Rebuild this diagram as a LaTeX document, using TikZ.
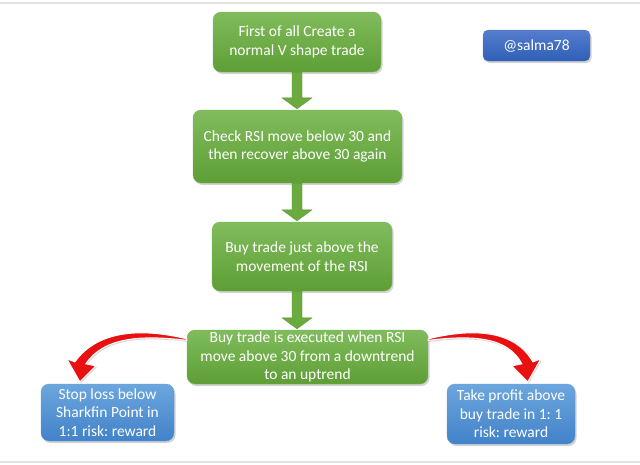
\documentclass[tikz,border=0pt]{standalone}
\usepackage{fontspec}
\setmainfont{Carlito}
\frenchspacing
\usetikzlibrary{shadows,calc}
\definecolor{gtop}{HTML}{80BC5C}
\definecolor{gbot}{HTML}{5E9E35}
\definecolor{btop}{HTML}{6CA6DD}
\definecolor{bbot}{HTML}{4282C9}
\definecolor{stop}{HTML}{557DCE}
\definecolor{sbot}{HTML}{2F5FB7}
\definecolor{arrgreen}{HTML}{6AAA3F}
\definecolor{arrred}{HTML}{E81010}
\tikzset{
  box/.style={rounded corners=8pt, text=white, align=center, inner sep=0pt,
    font=\fontsize{15.5}{18.5}\selectfont,
    drop shadow={shadow xshift=1.5pt, shadow yshift=-2pt, opacity=0.35, fill=gray}},
  greenbox/.style={box, top color=gtop, bottom color=gbot, draw=gbot!80!white, line width=0.3pt},
  bluebox/.style={box, top color=btop, bottom color=bbot, draw=bbot!80!white, line width=0.3pt},
  tagbox/.style={box, rounded corners=5pt, top color=stop, bottom color=sbot, draw=sbot!80!white, line width=0.3pt},
  blockarrow/.style={fill=arrgreen, draw=arrgreen!85!black, line width=0.3pt},
  curvearrow/.style={fill=arrred, draw=white, line width=1pt,
    drop shadow={shadow xshift=1pt, shadow yshift=-1.5pt, opacity=0.3, fill=gray}},
  frameline/.style={draw=gray!22, line width=2pt}
}
\begin{document}
\begin{tikzpicture}[x=1pt,y=-1pt]
\useasboundingbox (0,0) rectangle (640,464);
\draw[frameline] (0,2.5) -- (640,2.5);
\draw[frameline] (0,462) -- (640,462);
\coordinate (axis) at (297,0);

\node[greenbox, minimum width=168pt, minimum height=60pt] (a) at (297,42) {First of all Create a\\normal V shape trade};
\node[greenbox, minimum width=209pt, minimum height=73pt] (b) at (297.5,146.5) {Check RSI move below 30 and\\then recover above 30 again};
\node[greenbox, minimum width=180pt, minimum height=69pt] (c) at (302,256.5) {Buy trade just above the\\movement of the RSI};
\node[greenbox, minimum width=241pt, minimum height=54pt] (d) at (307.5,357) {Buy trade is executed when RSI\\move above 30 from a downtrend\\to an uptrend};
\node[bluebox, minimum width=133pt, minimum height=57pt] (e) at (107.5,412.5) {Stop loss below\\Sharkfin Point in\\1:1 risk: reward};
\node[bluebox, minimum width=128pt, minimum height=60pt] (f) at (511,414) {Take profit above\\buy trade in 1: 1\\risk: reward};
\node[tagbox, minimum width=107pt, minimum height=31pt] (g) at (536.5,45.5) {@salma78};

% green block arrows
\foreach \p/\q in {a/b,b/c,c/d}{
  \path (\p.south -| axis) coordinate (s) (\q.north -| axis) coordinate (t);
  \filldraw[blockarrow] ($(s)+(-5,0)$) -- ($(t)+(-5,-12)$) -- ($(t)+(-15,-12)$) -- ($(t)+(0,-1)$)
     -- ($(t)+(15,-12)$) -- ($(t)+(5,-12)$) -- ($(s)+(5,0)$) -- cycle;
}

% red curved arrows
\path ($(d.north west)+(0,9)$) coordinate (lt) ($(e.north west)+(39,-2)$) coordinate (lp);
\filldraw[curvearrow] (lt) .. controls ($(lp)+(62,-54)$) and ($(lp)+(18,-52)$) .. ($(lp)+(-5,-20)$)
  -- ($(lp)+(-13,-23)$) -- (lp) -- ($(lp)+(16,-16)$) -- ($(lp)+(6,-18)$)
  .. controls ($(lp)+(24,-45)$) and ($(lp)+(62,-47)$) .. ($(lt)+(0,1.5)$) -- cycle;

\path ($(d.north east)+(0,9)$) coordinate (rt) ($(f.north west)+(81,-2)$) coordinate (rp);
\filldraw[curvearrow] (rt) .. controls ($(rp)+(-55,-54)$) and ($(rp)+(-13,-52)$) .. ($(rp)+(5,-20)$)
  -- ($(rp)+(13,-23)$) -- (rp) -- ($(rp)+(-16,-16)$) -- ($(rp)+(-6,-18)$)
  .. controls ($(rp)+(-20,-45)$) and ($(rp)+(-55,-47)$) .. ($(rt)+(0,1.5)$) -- cycle;
\end{tikzpicture}
\end{document}
